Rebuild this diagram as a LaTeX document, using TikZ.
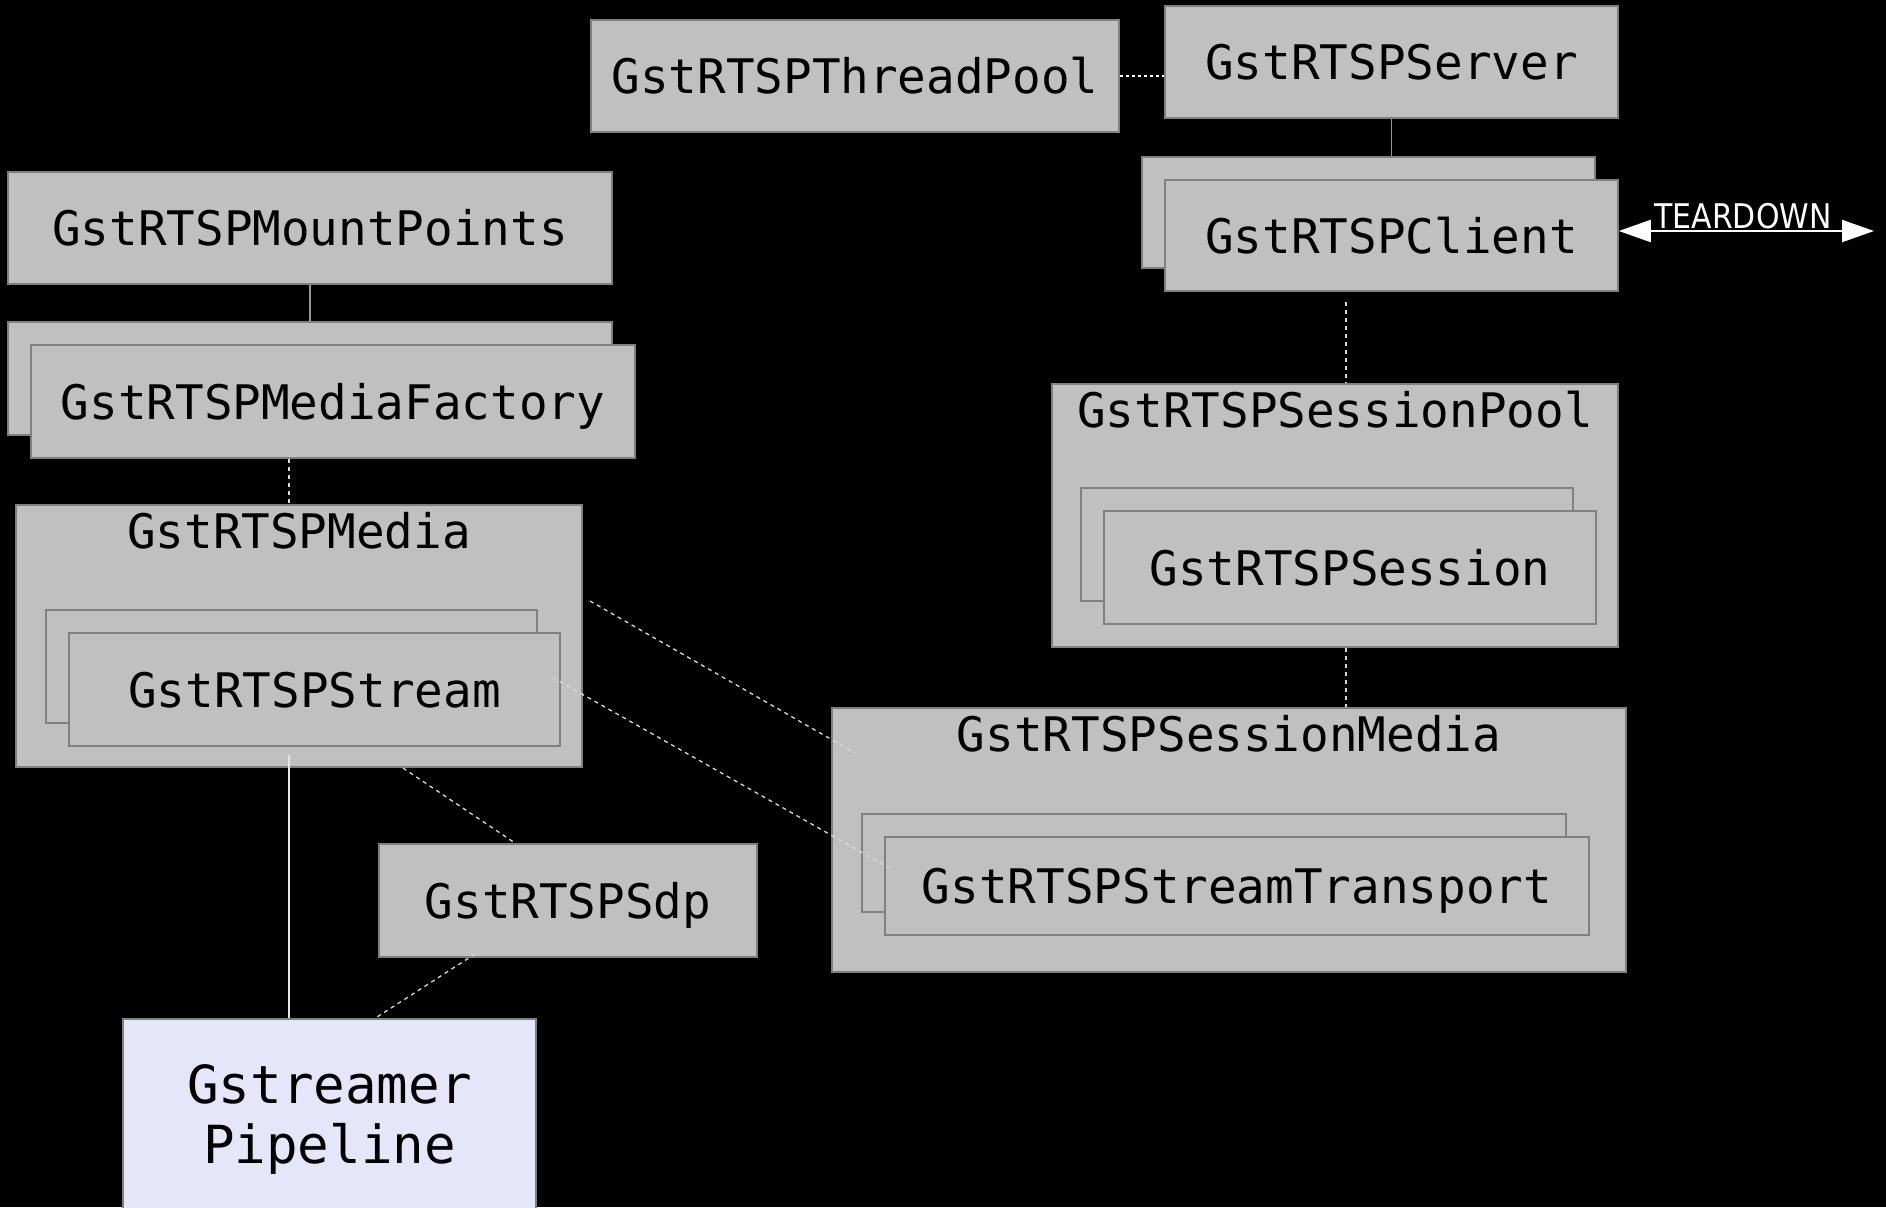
\documentclass[tikz,border=0pt]{standalone}
\usepackage{fontspec}
\setmonofont{DejaVu Sans Mono}
\newfontfamily\tdfont[FakeStretch=0.88]{DejaVu Sans}
\usepackage{tikz}
\usetikzlibrary{arrows.meta,shadows}
\definecolor{boxfill}{RGB}{192,192,192}
\definecolor{boxline}{RGB}{128,128,128}
\definecolor{pipefill}{RGB}{230,230,250}
\definecolor{linkgray}{RGB}{150,150,150}

\begin{document}
\begin{tikzpicture}[x=1pt,y=-1pt,
    box/.style={draw=boxline,fill=boxfill,line width=2pt,inner sep=0pt,text=black,
      font=\ttfamily\fontsize{47.6pt}{57pt}\selectfont,text height=35pt,text depth=0pt},
    stack/.style={box,line width=1.5pt,
      copy shadow={shadow xshift=-23pt,shadow yshift=23pt,draw=boxline,fill=boxfill,line width=1.5pt,opacity=1}},
    group/.style={draw=boxline,fill=boxfill,line width=2pt,inner sep=0pt},
    title/.style={inner sep=0pt,text=black,
      font=\ttfamily\fontsize{47.6pt}{57pt}\selectfont,text height=35pt,text depth=0pt},
    pipe/.style={draw=boxline,fill=pipefill,line width=2pt,inner sep=0pt,align=center,text=black,
      font=\ttfamily\fontsize{52.5pt}{60pt}\selectfont},
    solidlink/.style={draw=linkgray,line width=1.5pt},
    whitelink/.style={draw=white!90!black,line width=1.5pt},
    dashlink/.style={draw=white!85!black,line width=1.3pt,dash pattern=on 4pt off 4pt},
    dotlink/.style={draw=white,line width=2pt,dash pattern=on 3pt off 3pt},
    tdarrow/.style={draw=white,line width=2pt,
      {Triangle[length=32pt,width=22pt]}-{Triangle[length=32pt,width=22pt]}},
    tdlabel/.style={inner sep=0pt,text=white,font=\tdfont\fontsize{34pt}{40pt}\selectfont}]
  \path[use as bounding box,fill=black] (0,0) rectangle (1886,1207);
  \clip (0,0) rectangle (1886,1207);

  % server side
  \node[box,minimum width=528pt,minimum height=112pt] (pool) at (855,76) {GstRTSPThreadPool};
  \node[box,minimum width=453pt,minimum height=112pt] (server) at (1391.5,62) {GstRTSPServer};
  \node[stack,minimum width=453pt,minimum height=111pt] (client) at (1391.5,235.5) {GstRTSPClient};

  % media side
  \node[box,minimum width=604pt,minimum height=112pt] (mounts) at (310,228) {GstRTSPMountPoints};
  \node[stack,minimum width=604pt,minimum height=113pt] (factory) at (333,401.5) {GstRTSPMediaFactory};
  \node[group,minimum width=566pt,minimum height=262pt] (media) at (299,636) {};
  \node[title] (mediatitle) at ([yshift=-27pt]media.north) {GstRTSPMedia};
  \node[stack,minimum width=491pt,minimum height=113pt] (stream) at (314.5,689.5) {GstRTSPStream};
  \node[box,minimum width=378pt,minimum height=113pt] (sdp) at (568,900.5) {GstRTSPSdp};
  \node[pipe,minimum width=413pt,minimum height=200pt] (pipeline) at (329.5,1119) {Gstreamer\\Pipeline};

  % sessions
  \node[group,minimum width=566pt,minimum height=263pt] (spool) at (1335,515.5) {};
  \node[title] (spooltitle) at ([yshift=-27pt]spool.north) {GstRTSPSessionPool};
  \node[stack,minimum width=492pt,minimum height=113pt] (session) at (1350,567.5) {GstRTSPSession};
  \node[group,minimum width=794pt,minimum height=264pt] (smedia) at (1229,840) {};
  \node[title] (smediatitle) at ([yshift=-27pt]smedia.north) {GstRTSPSessionMedia};
  \node[stack,minimum width=704pt,minimum height=98pt] (transport) at (1237,886) {GstRTSPStreamTransport};

  % links
  \draw[dotlink] (pool.east) -- (pool.east -| server.west);
  \draw[solidlink] (server.south) -- ([yshift=23pt]client.north);
  \draw[dashlink] ([xshift=11pt,yshift=-10pt]spool.north |- client.south) -- ([xshift=11pt]spool.north);
  \draw[dashlink] ([xshift=11pt]spool.south) -- ([xshift=11pt]spool.south |- smedia.north);
  \draw[solidlink] (mounts.south) -- ([yshift=23pt]mounts.south |- factory.north);
  \draw[dashlink] ([xshift=-44pt]factory.south) -- ([xshift=-44pt]factory.south |- media.north);
  \draw[whitelink] ([xshift=-10pt,yshift=13pt]media.south) -- ([xshift=-10pt]media.south |- pipeline.north);
  \draw[dashlink] ([xshift=104pt]media.south) -- ([xshift=-53pt]sdp.north);
  \draw[dashlink] ([xshift=-93pt,yshift=4pt]sdp.south) -- ([xshift=46pt]pipeline.north);
  \draw[dashlink] ([xshift=7pt,yshift=35pt]media.east) -- ([xshift=24pt,yshift=-46pt]smedia.north west);
  \draw[dashlink] ([xshift=-8pt,yshift=12pt]stream.east) -- ([xshift=5pt,yshift=18pt]transport.west);

  % teardown
  \coordinate (tdend) at (1874,231);
  \draw[tdarrow] ([yshift=4.5pt]client.east) -- (tdend);
  \node[tdlabel,anchor=base] (tdtext) at (1743,228) {TEARDOWN};
\end{tikzpicture}
\end{document}
